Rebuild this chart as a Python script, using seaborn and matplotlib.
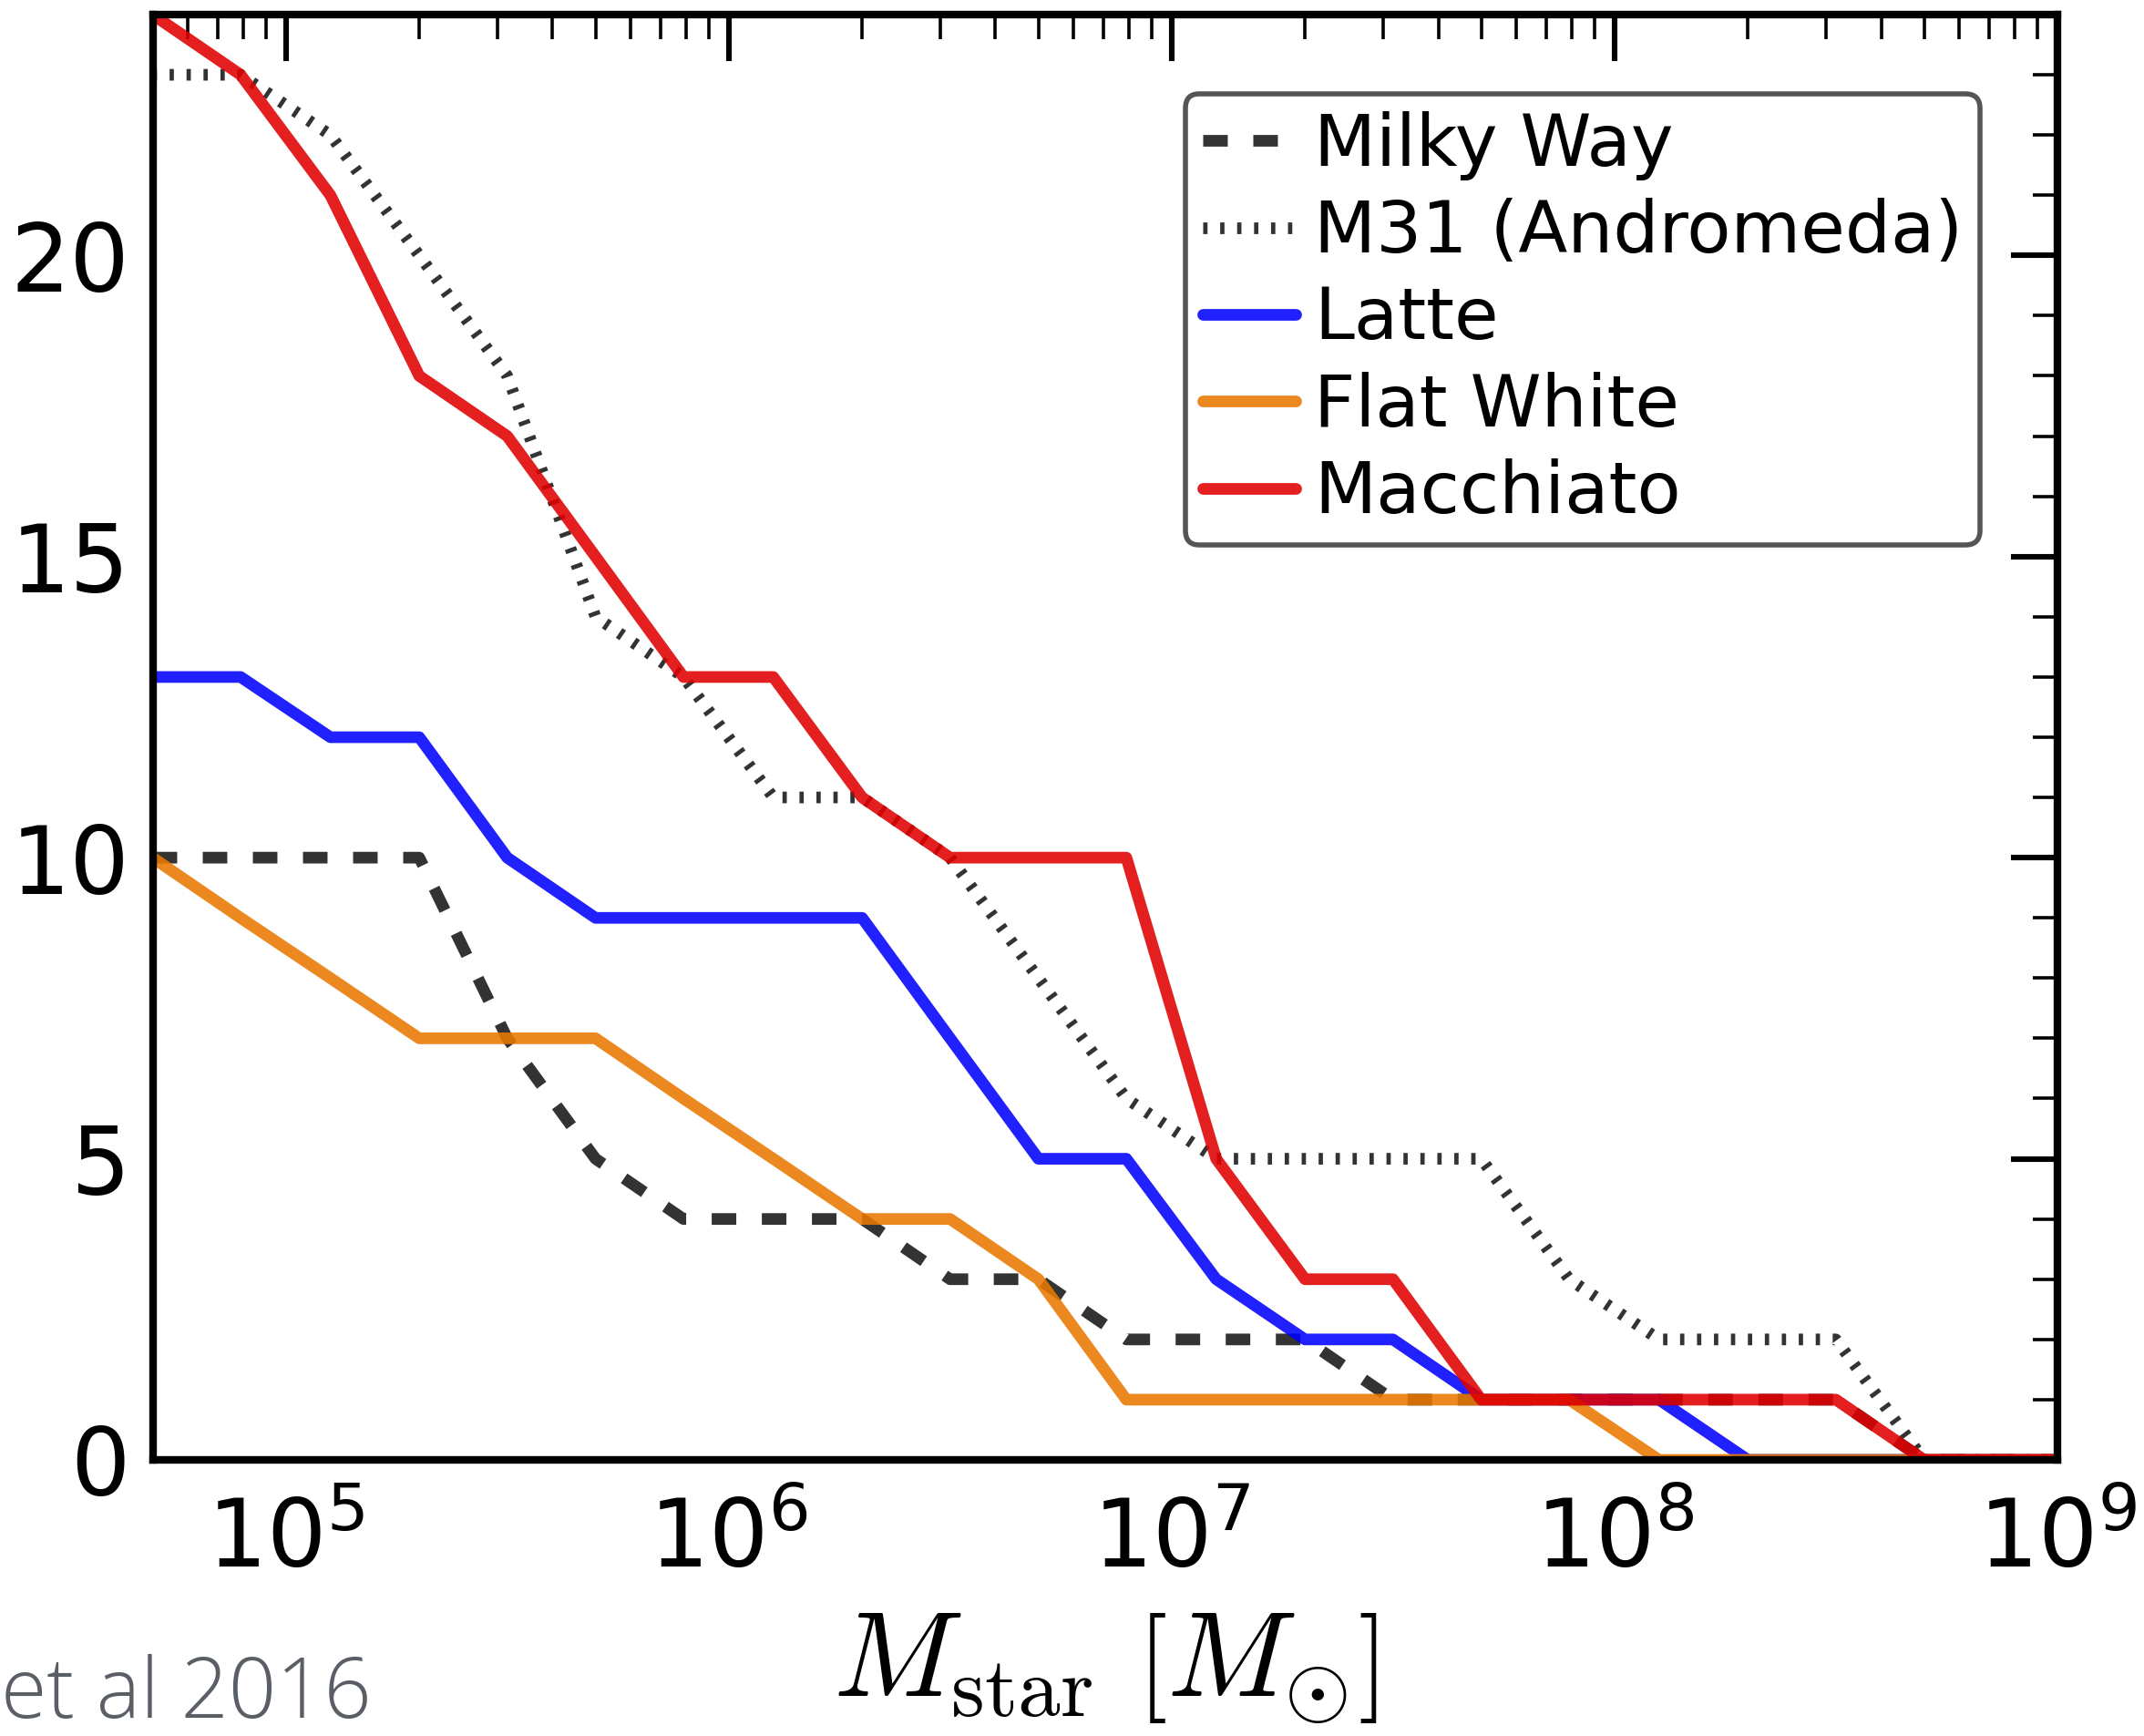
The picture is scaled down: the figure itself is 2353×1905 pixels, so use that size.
import matplotlib
matplotlib.use("Agg")
import matplotlib.pyplot as plt
import seaborn as sns
from matplotlib.ticker import MultipleLocator, LogLocator, NullFormatter

# Cumulative number of satellites above a given stellar mass
stellar_mass = [5.0e4, 7.9e4, 1.26e5, 2.0e5, 3.16e5, 5.0e5, 7.9e5, 1.26e6,
                2.0e6, 3.16e6, 5.0e6, 7.9e6, 1.26e7, 2.0e7, 3.16e7, 5.0e7,
                7.9e7, 1.26e8, 2.0e8, 3.16e8, 5.0e8, 7.9e8, 1.26e9]
milky_way = [10, 10, 10, 10, 7, 5, 4, 4, 4, 3, 3, 2, 2, 2, 1, 1, 1, 1, 1, 1, 0, 0, 0]
m31 = [23, 23, 22, 20, 18, 14, 13, 11, 11, 10, 8, 6, 5, 5, 5, 5, 3, 2, 2, 2, 0, 0, 0]
latte = [13, 13, 12, 12, 10, 9, 9, 9, 9, 7, 5, 5, 3, 2, 2, 1, 1, 1, 0, 0, 0, 0, 0]
flat_white = [10, 9, 8, 7, 7, 7, 6, 5, 4, 4, 3, 1, 1, 1, 1, 1, 1, 0, 0, 0, 0, 0, 0]
macchiato = [24, 23, 21, 18, 17, 15, 13, 13, 11, 10, 10, 10, 5, 3, 3, 1, 1, 1, 1, 1, 0, 0, 0]

series_names = ["Milky Way", "M31 (Andromeda)", "Latte", "Flat White", "Macchiato"]
series_values = [milky_way, m31, latte, flat_white, macchiato]
series_colors = ["#333333", "#333333", "#0000ff", "#e97800", "#e00000"]
series_alpha = [1.0, 1.0, 0.87, 0.88, 0.88]
series_styles = [(0, (9.7, 10.1)), (0, (1.7, 5.0)), "-", "-", "-"]

sns.set_style("white")
plt.rcParams.update({
    "font.family": ["DejaVu Sans"],
    "lines.scale_dashes": False,
    "axes.linewidth": 3.0,
    "axes.edgecolor": "black",
    "text.color": "black",
    "axes.labelcolor": "black",
    "xtick.color": "black",
    "ytick.color": "black",
})

fig = plt.figure(figsize=(2353 / 200, 1905 / 200), dpi=200)
ax = fig.add_axes([0.07119, 0.15906, 0.88844, 0.83255])
ax.set_xscale("log")

for name, vals, col, alp, ls in zip(series_names, series_values, series_colors,
                                    series_alpha, series_styles):
    sns.lineplot(x=stellar_mass, y=vals, ax=ax, color=col, alpha=alp,
                 linewidth=4.6, linestyle=ls, label=name, errorbar=None)

ax.set_xlim(5e4, 1e9)
ax.set_ylim(0, 24)

ax.xaxis.set_major_locator(LogLocator(base=10))
ax.xaxis.set_minor_locator(LogLocator(base=10, subs=range(2, 10), numticks=20))
ax.xaxis.set_minor_formatter(NullFormatter())
ax.yaxis.set_major_locator(MultipleLocator(5))
ax.yaxis.set_minor_locator(MultipleLocator(1))

ax.tick_params(axis="both", which="major", direction="in", length=18.4,
               width=2.2, top=True, right=True, labelsize=37, colors="black")
ax.tick_params(axis="both", which="minor", direction="in", length=9.8,
               width=1.3, top=True, right=True)
ax.tick_params(axis="y", which="major", pad=9)
ax.tick_params(axis="x", which="major", pad=14)

ax.set_xlabel(r"$M_{\rm star}\ \left[M_{\odot}\right]$", fontsize=48,
              math_fontfamily="cm", labelpad=8)
ax.set_ylabel("")

leg = ax.legend(loc="upper right", bbox_to_anchor=(0.9593, 0.9452),
                borderaxespad=0, fontsize=28.4, handlelength=1.3,
                handletextpad=0.25, borderpad=0.24, labelspacing=0.245,
                fancybox=True, framealpha=1.0, edgecolor="#555555")
leg.get_frame().set_linewidth(2.0)
for txt in leg.get_texts():
    txt.set_color("black")

fig.text(0.1734, 0.0105, "et al 2016", ha="right", va="baseline",
         color="#5a5f66", fontsize=33, family=["Open Sans", "DejaVu Sans"],
         fontweight="light")

fig.savefig("out.png", dpi=200)
